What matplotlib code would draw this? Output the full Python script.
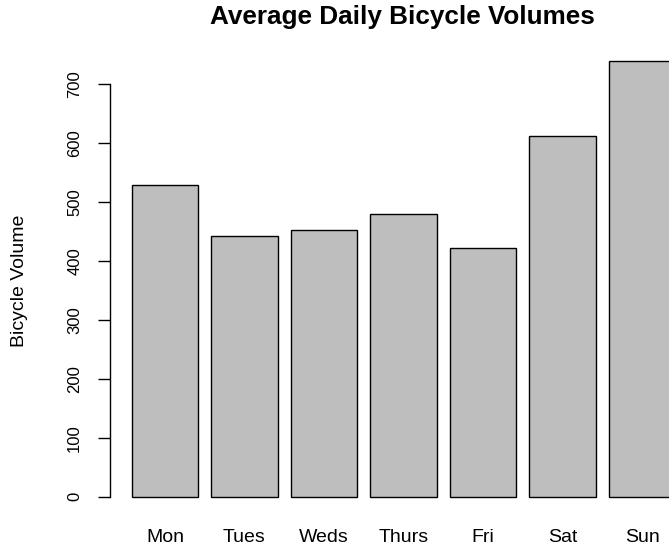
import matplotlib
matplotlib.use("Agg")
import matplotlib.pyplot as plt

days = ["Mon", "Tues", "Weds", "Thurs", "Fri", "Sat", "Sun"]
volumes = [529, 442, 453, 480, 422, 613, 740]
yticks = [0, 100, 200, 300, 400, 500, 600, 700]

plt.rcParams['font.family'] = ['Liberation Sans', 'DejaVu Sans']

W, H = 669, 546
fig = plt.figure(figsize=(W / 100, H / 100), dpi=100)

# plot region in pixels (R barplot style), runs past the right edge
left, right, top, bottom = 110, 697, 43.4, 514
ax = fig.add_axes([left / W, 1 - bottom / H, (right - left) / W, (bottom - top) / H])

# R barplot positions: width 1, space 0.2
xs = [0.7 + 1.2 * i for i in range(len(days))]
ax.bar(xs, volumes, width=1.0, color="#bebebe", edgecolor="black", linewidth=1)

x0, x1 = xs[0] - 0.5, xs[-1] + 0.5
ax.set_xlim(x0 - 0.04 * (x1 - x0), x1 + 0.04 * (x1 - x0))
ymax = max(volumes)
ax.set_ylim(-0.04 * ymax, ymax * 1.04)

for s in ["top", "right", "bottom"]:
    ax.spines[s].set_visible(False)
ax.spines["left"].set_bounds(0, 700)
ax.spines["left"].set_linewidth(1)

ax.set_yticks(yticks)
ax.set_yticklabels([str(v) for v in yticks], rotation=90, va="center")
ax.tick_params(axis="y", length=9, width=1, pad=11, labelsize=12, colors="black")
ax.set_xticks(xs)
ax.set_xticklabels(days)
ax.tick_params(axis="x", length=0, pad=10.5, labelsize=14)

fig.text(402.5 / W, 1 - 24 / H, "Average Daily Bicycle Volumes", ha="center", va="baseline",
         fontsize=18.8, fontweight="bold")
fig.text(20 / W, 1 - 281 / H, "Bicycle Volume", rotation=90, ha="center", va="center",
         fontsize=14)

fig.savefig("out.png", dpi=100)
